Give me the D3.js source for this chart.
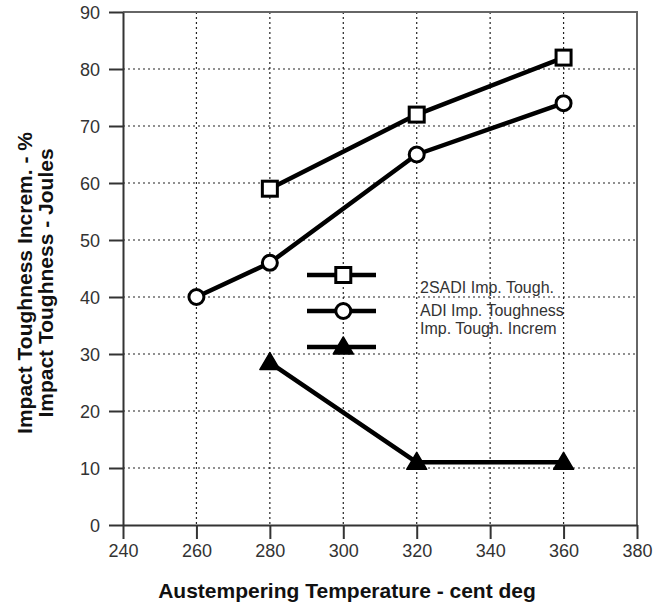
<!DOCTYPE html>
<html>
<head>
<meta charset="utf-8">
<script src="https://cdn.jsdelivr.net/npm/d3@7"></script>
<style>
  html, body { margin: 0; padding: 0; background: #fff; }
  svg { display: block; font-family: "Liberation Sans", Arial, Helvetica, sans-serif; }
</style>
</head>
<body>
<svg id="chart" width="669" height="602"></svg>
<script>
// ---- data ----
const xTicks = [240, 260, 280, 300, 320, 340, 360, 380];
const yTicks = [0, 10, 20, 30, 40, 50, 60, 70, 80, 90];
const temps2SADI = [280, 320, 360];
const values2SADI = [59, 72, 82];
const tempsADI = [260, 280, 320, 360];
const valuesADI = [40, 46, 65, 74];
const tempsIncrem = [280, 320, 360];
const valuesIncrem = [28.5, 11, 11];
const seriesNames = ["2SADI Imp. Tough.", "ADI Imp. Toughness", "Imp. Tough. Increm"];
const seriesMarkers = ["square", "circle", "triangle"];
const xTitle = "Austempering Temperature - cent deg";
const yTitleLines = ["Impact Toughness Increm. - %", "Impact Toughness - Joules"];

// ---- layout ----
const svg = d3.select("#chart");
const pL = 123, pR = 637, pT = 12, pB = 525;
const x = d3.scaleLinear().domain([240, 380]).range([pL, pR]);
const y = d3.scaleLinear().domain([0, 90]).range([pB, pT]);

// grid
const grid = svg.append("g").attr("stroke", "#222").attr("stroke-width", 1.2)
  .attr("stroke-dasharray", "2,3");
grid.selectAll("line.v").data(xTicks.slice(1, -1)).join("line").attr("class", "v")
  .attr("x1", d => x(d)).attr("x2", d => x(d)).attr("y1", pT).attr("y2", pB);
grid.selectAll("line.h").data(yTicks.slice(1, -1)).join("line").attr("class", "h")
  .attr("y1", d => y(d)).attr("y2", d => y(d)).attr("x1", pL).attr("x2", pR);

// frame (top/right)
svg.append("path")
  .attr("d", `M${pL},${pT}H${pR}V${pB}`)
  .attr("fill", "none").attr("stroke", "#666").attr("stroke-width", 2);

// axes
const xAxis = d3.axisBottom(x).tickValues(xTicks).tickSize(14).tickPadding(5).tickSizeOuter(0);
const yAxis = d3.axisLeft(y).tickValues(yTicks).tickSize(14).tickPadding(9).tickSizeOuter(0);
const gx = svg.append("g").attr("transform", `translate(0,${pB})`).call(xAxis);
const gy = svg.append("g").attr("transform", `translate(${pL},0)`).call(yAxis);
[gx, gy].forEach(g => {
  g.select(".domain").attr("stroke", "#333").attr("stroke-width", 2);
  g.selectAll(".tick line").attr("stroke", "#333").attr("stroke-width", 2);
  g.selectAll(".tick text").attr("fill", "#333").style("font-size", "18px")
    .style("font-family", "'Liberation Sans', Arial, sans-serif");
});
gy.selectAll(".tick text").attr("dy", "0.35em");

// axis titles
svg.append("text").attr("x", 347).attr("y", 598).attr("text-anchor", "middle")
  .style("font-size", "21px").style("font-weight", "bold").attr("fill", "#111").text(xTitle);
const yt = svg.append("text").attr("transform", "translate(32,283) rotate(-90)")
  .attr("text-anchor", "middle").style("font-size", "21px").style("font-weight", "bold").attr("fill", "#111");
yTitleLines.forEach((t, i) => yt.append("tspan").attr("x", 0).attr("dy", i === 0 ? 0 : 21).text(t));

// series
const series = [
  { xs: temps2SADI, ys: values2SADI, marker: seriesMarkers[0] },
  { xs: tempsADI, ys: valuesADI, marker: seriesMarkers[1] },
  { xs: tempsIncrem, ys: valuesIncrem, marker: seriesMarkers[2] }
];
const line = d3.line().x(d => x(d[0])).y(d => y(d[1]));

function drawMarker(g, type, cx, cy) {
  if (type === "square") {
    g.append("rect").attr("x", cx - 7.5).attr("y", cy - 7.5).attr("width", 15).attr("height", 15)
      .attr("fill", "#fff").attr("stroke", "#000").attr("stroke-width", 3);
  } else if (type === "circle") {
    g.append("circle").attr("cx", cx).attr("cy", cy).attr("r", 7.5)
      .attr("fill", "#fff").attr("stroke", "#000").attr("stroke-width", 3);
  } else {
    g.append("path").attr("d", `M${cx},${cy - 10}L${cx + 10},${cy + 7}L${cx - 10},${cy + 7}Z`)
      .attr("fill", "#000").attr("stroke", "#000").attr("stroke-width", 1.5).attr("stroke-linejoin", "round");
  }
}

series.forEach(s => {
  const pts = s.xs.map((v, i) => [v, s.ys[i]]);
  svg.append("path").datum(pts).attr("d", line).attr("fill", "none")
    .attr("stroke", "#000").attr("stroke-width", 4.5).attr("stroke-linejoin", "round");
  const g = svg.append("g");
  pts.forEach(p => drawMarker(g, s.marker, x(p[0]), y(p[1])));
});

// legend
const legY = [275, 311, 347];
const legTextY = [293, 316, 334];
const legCx = x(300);
seriesNames.forEach((name, i) => {
  const g = svg.append("g");
  g.append("line").attr("x1", 307).attr("x2", 376).attr("y1", legY[i]).attr("y2", legY[i])
    .attr("stroke", "#000").attr("stroke-width", 4.5);
  drawMarker(g, seriesMarkers[i], legCx, legY[i]);
  g.append("text").attr("x", 420).attr("y", legTextY[i]).style("font-size", "16px")
    .attr("fill", "#333").text(name);
});
</script>
</body>
</html>
